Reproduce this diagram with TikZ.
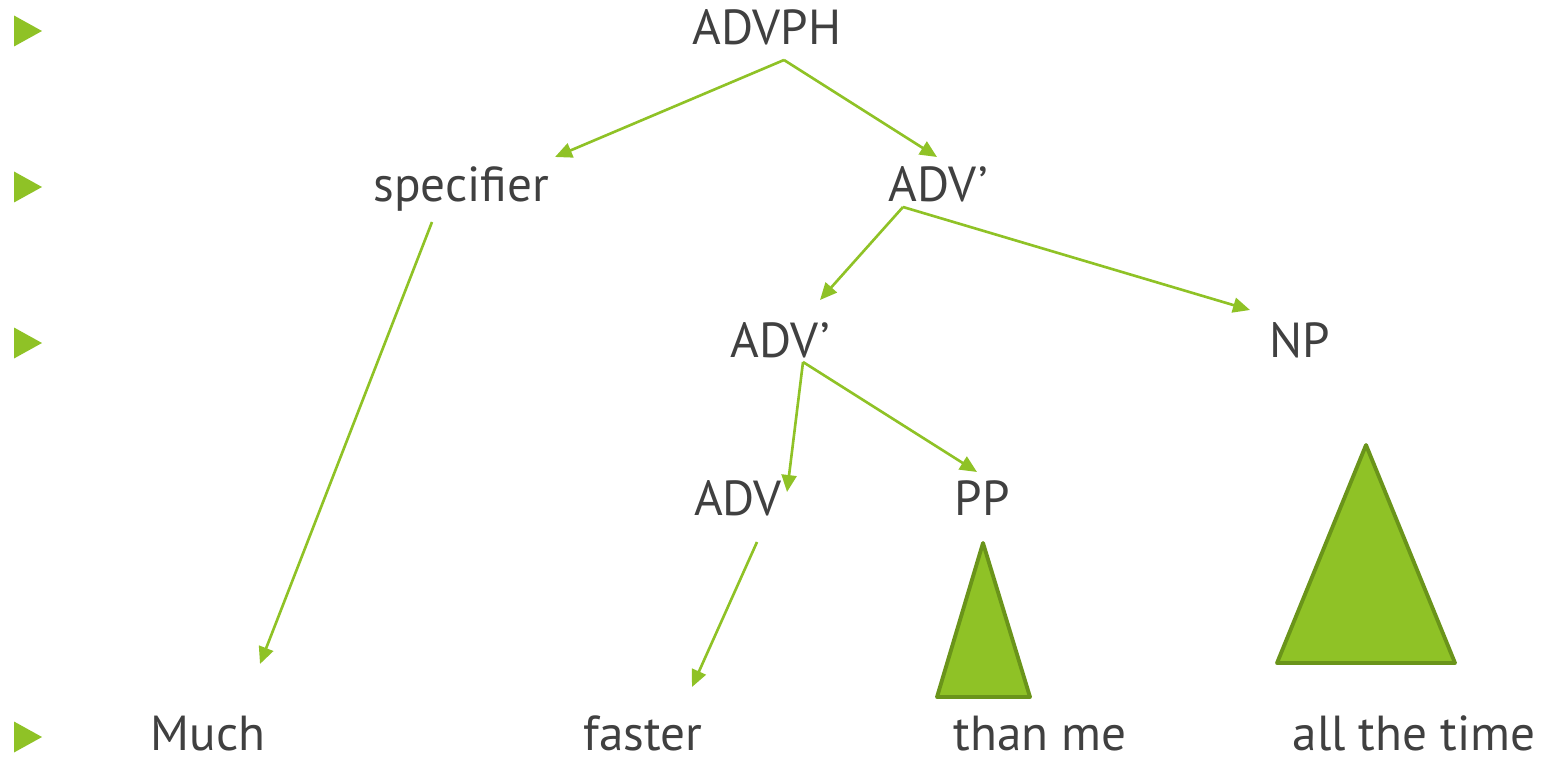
\documentclass[tikz,border=0pt]{standalone}
\usepackage{fontspec}
\setmainfont{PT Sans}
\usepackage{tikz}
\usetikzlibrary{arrows.meta,calc,positioning}
\definecolor{leafGreen}{RGB}{143, 194, 38}
\definecolor{darkGreen}{RGB}{106, 148, 26}
\definecolor{inkGrey}{RGB}{64, 64, 64}
\tikzstyle{word}  =[anchor=base, inner sep=0pt, text=inkGrey,
                    font=\fontsize{28}{32}\selectfont]
\tikzstyle{branch}=[draw=leafGreen, line width=1.5pt,
                    -{Triangle[length=0.34cm,width=0.3cm]}]
\tikzstyle{roof}  =[fill=leafGreen, draw=darkGreen, line width=2.2pt,
                    line join=round]
\tikzstyle{bullet}=[fill=leafGreen]

\begin{document}
\begin{tikzpicture}[x=0.02cm,y=-0.02cm]
    \useasboundingbox (0,0) rectangle (1544,760);

    % bullets on the left
    \foreach \y in {31,187,343,737}
        \fill[bullet] (14,\y-15.5) -- (42,\y) -- (14,\y+15.5) -- cycle;

    % tree labels
    \node[word] (advph)  at (767,45)  {ADVPH};
    \node[word] (spec)   at (461,202) {specifier};
    \node[word] (advbA)  at (938,202) {ADV’};
    \node[word] (advbB)  at (780,357) {ADV’};
    \node[word] (np)     at (1300,357) {NP};
    \node[word] (adv)    at (738,515) {ADV};
    \node[word] (pp)     at (982,515) {PP};
    \node[word] (much)   at (208,750) {Much};
    \node[word] (faster) at (643,750) {faster};
    \node[word] (than)   at (1040,750) {than me};
    \node[word] (time)   at (1414,750) {all the time};

    % branches
    \foreach \i/\ax/\ay/\j/\bx/\by in {advph/17/15/spec/94/-45,
        advph/17/15/advbA/-1/-45, advbA/-35/5/advbB/40/-57,
        advbA/-35/5/np/-50/-47, spec/-29/20/much/52/-86,
        advbB/23/5/adv/49/-23, advbB/23/5/pp/-5/-43,
        adv/19/27/faster/49/-63}
        \draw[branch] ($(\i.base)+(\ax,\ay)$) -- ($(\j.base)+(\bx,\by)$);

    % roofs
    \draw[roof] (983,543) -- (1030,697) -- (937,697) -- cycle;
    \draw[roof] (1366,445) -- (1455,663) -- (1277,663) -- cycle;

\end{tikzpicture}
\end{document}
